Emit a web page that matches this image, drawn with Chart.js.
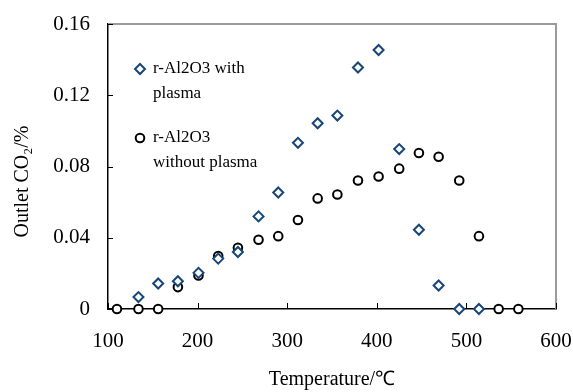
<!DOCTYPE html>
<html>
<head>
<meta charset="utf-8">
<script src="https://cdn.jsdelivr.net/npm/chart.js@4/dist/chart.umd.min.js"></script>
<style>
  body { margin: 0; background: #fff; }
</style>
</head>
<body>
<canvas id="co2-chart" width="573" height="392"></canvas>
<script>
const temperatures = [110, 134, 156, 178, 201, 223, 245, 268, 290, 312, 334, 356, 379, 402, 425, 447, 469, 492, 514, 536, 558]
const withPlasma = [null, 0.0067, 0.0143, 0.0156, 0.0203, 0.0283, 0.032, 0.052, 0.0654, 0.0933, 0.1043, 0.1086, 0.1356, 0.1454, 0.0898, 0.0445, 0.0132, 0, 0, null, null]
const withoutPlasma = [0, 0, 0, 0.0123, 0.0188, 0.0297, 0.0344, 0.0389, 0.0409, 0.050, 0.0621, 0.0643, 0.0721, 0.0744, 0.0788, 0.0876, 0.0855, 0.0721, 0.0409, 0, 0]
const seriesNames = [["r-Al2O3 with", "plasma"], ["r-Al2O3", "without plasma"]]
const xTicks = [100, 200, 300, 400, 500, 600]
const yTicks = [0, 0.04, 0.08, 0.12, 0.16]

const serif = "'Liberation Serif', 'Times New Roman', serif"

const toPoints = (values) => temperatures
    .map((t, i) => ({ x: t, y: values[i] }))
    .filter(p => p.y !== null)

const frameAndLegend = {
    id: "frameAndLegend",
    beforeDatasetsDraw(chart) {
        const { ctx, chartArea, scales } = chart
        ctx.save()
        ctx.strokeStyle = "#9a9a9a"
        ctx.lineWidth = 2
        ctx.beginPath()
        ctx.moveTo(chartArea.left, chartArea.top)
        ctx.lineTo(chartArea.right, chartArea.top)
        ctx.lineTo(chartArea.right, chartArea.bottom)
        ctx.stroke()

        ctx.strokeStyle = "#000"
        ctx.lineWidth = 1
        ctx.beginPath()
        xTicks.forEach(v => {
            const px = Math.round(scales.x.getPixelForValue(v)) + 0.5
            ctx.moveTo(px, chartArea.bottom)
            ctx.lineTo(px, chartArea.bottom - 6)
        })
        yTicks.forEach(v => {
            const py = Math.round(scales.y.getPixelForValue(v)) + 0.5
            ctx.moveTo(chartArea.left, py)
            ctx.lineTo(chartArea.left + 5, py)
        })
        ctx.stroke()
        ctx.restore()
    },
    afterDraw(chart) {
        const { ctx, chartArea } = chart
        const rows = [chartArea.top + 45, chartArea.top + 114]
        ctx.save()
        chart.data.datasets.forEach((ds, i) => {
            const mx = chartArea.left + 32
            const my = rows[i]
            ctx.strokeStyle = ds.pointBorderColor
            ctx.fillStyle = ds.pointBackgroundColor
            ctx.lineWidth = ds.pointBorderWidth
            Chart.helpers.drawPoint(ctx, { pointStyle: ds.pointStyle, radius: ds.pointRadius, rotation: 0, borderWidth: ds.pointBorderWidth }, mx, my)
            ctx.fillStyle = "#000"
            ctx.font = "17px " + serif
            ctx.textBaseline = "middle"
            ctx.textAlign = "left"
            seriesNames[i].forEach((line, j) => {
                ctx.fillText(line, mx + 13, my + j * 25)
            })
        })
        ctx.restore()
    }
}

const chartCanvas = document.querySelector("#co2-chart").getContext("2d")

const co2Chart = new Chart(chartCanvas, {
    type: "scatter",
    data: {
        datasets: [
            {
                label: seriesNames[0].join(" "),
                data: toPoints(withPlasma),
                pointStyle: "rectRot",
                pointRadius: 5,
                pointBorderWidth: 2,
                pointBorderColor: "#174677",
                pointBackgroundColor: "#fff",
                clip: false,
            },
            {
                label: seriesNames[1].join(" "),
                data: toPoints(withoutPlasma),
                pointStyle: "circle",
                pointRadius: 4.3,
                pointBorderWidth: 2,
                pointBorderColor: "#000",
                pointBackgroundColor: "#fff",
                clip: false,
            }
        ]
    },
    options: {
        responsive: false,
        animation: false,
        devicePixelRatio: 1,
        layout: { padding: { left: 0, right: 17, top: 24, bottom: 0 } },
        plugins: {
            legend: { display: false },
            tooltip: { enabled: false },
        },
        scales: {
            x: {
                type: "linear",
                min: 100,
                max: 600,
                afterFit: s => { s.height = 83; s.paddingLeft = 0; s.paddingRight = 0 },
                afterBuildTicks: s => { s.ticks = xTicks.map(v => ({ value: v })) },
                grid: { display: false, drawTicks: false },
                border: { display: true, color: "#000", width: 1.5 },
                ticks: {
                    autoSkip: false,
                    maxRotation: 0,
                    padding: 20,
                    color: "#000",
                    font: { family: serif, size: 21 },
                },
                title: {
                    display: true,
                    text: "Temperature/℃",
                    color: "#000",
                    font: { family: serif, size: 20 },
                    padding: { top: 0, bottom: 0 },
                },
            },
            y: {
                min: 0,
                max: 0.16,
                afterFit: s => { s.width = 108; s.paddingTop = 0; s.paddingBottom = 0 },
                afterBuildTicks: s => { s.ticks = yTicks.map(v => ({ value: v })) },
                grid: { display: false, drawTicks: false },
                border: { display: true, color: "#000", width: 1.5 },
                ticks: {
                    padding: 18,
                    color: "#000",
                    font: { family: serif, size: 21 },
                    callback: v => v === 0 ? "0" : v.toFixed(2),
                },
                title: {
                    display: true,
                    text: "Outlet CO₂/%      ",
                    color: "#000",
                    font: { family: serif, size: 20 },
                    padding: { top: 11, bottom: 0 },
                },
            },
        },
    },
    plugins: [frameAndLegend],
})
</script>
</body>
</html>
